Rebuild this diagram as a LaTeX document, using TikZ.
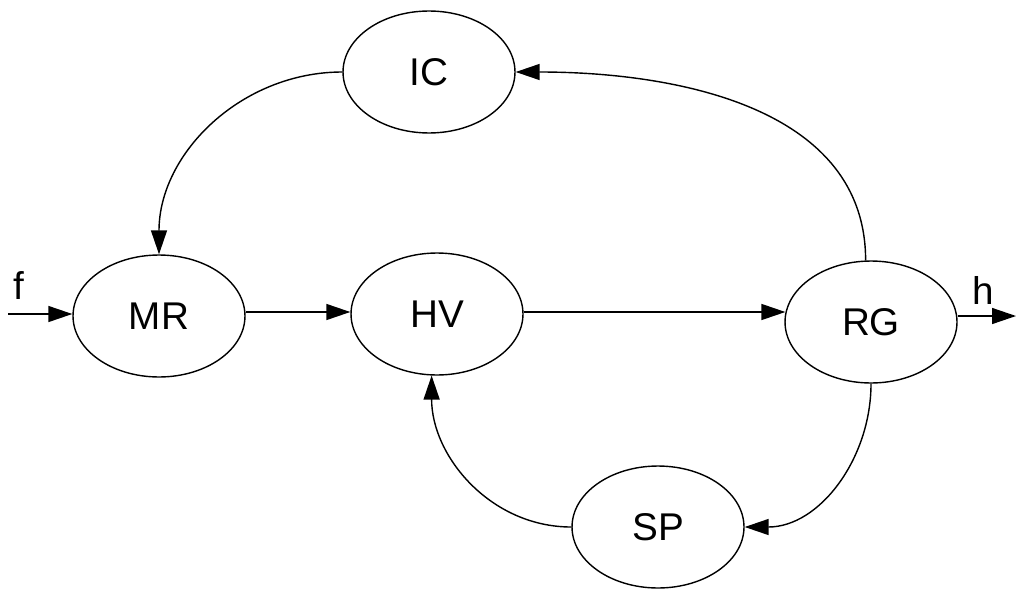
\documentclass[tikz,border=0pt]{standalone}
\usepackage{fontspec}
\setmainfont{Liberation Sans}
\usetikzlibrary{shapes.geometric,arrows.meta}
\begin{document}
\begin{tikzpicture}[x=0.02cm,y=-0.02cm,
  stage/.style={draw,ellipse,line width=0.8pt,minimum width=3.44cm,minimum height=2.44cm,inner sep=0pt,font=\fontsize{22}{26}\selectfont},
  conn/.style={line width=0.8pt,-{Triangle[length=0.48cm,width=0.32cm]}},
  lbl/.style={font=\fontsize{22}{26}\selectfont}]
\useasboundingbox (0,0) rectangle (1016,588);
\node[stage] (IC) at (429,72) {IC};
\node[stage] (MR) at (159,316) {MR};
\node[stage] (HV) at (437,314) {HV};
\node[stage] (RG) at (871,322) {RG};
\node[stage] (SP) at (658,527) {SP};
\coordinate (fin) at (8,314);
\coordinate (row) at (0,312);
\coordinate (hout) at (1016,316);
\node[lbl] (f) at (19,286) {f};
\node[lbl] (h) at (983,290) {h};
\draw[conn] (fin) -- (MR.west |- fin);
\draw[conn] (MR.east |- row) -- (HV.west |- row);
\draw[conn] (HV.east |- row) -- ([xshift=0.6pt]RG.west |- row);
\draw[conn] (RG.east |- hout) -- (hout);
\draw[conn] (IC.west) to[out=180,in=90] (MR.north);
\draw[conn] (RG.95) to[out=90,in=0] (IC.east);
\draw[conn] (RG.south) to[out=-90,in=0] (SP.east);
\draw[conn] (SP.west) to[out=180,in=-90] (HV.265);
\end{tikzpicture}
\end{document}
